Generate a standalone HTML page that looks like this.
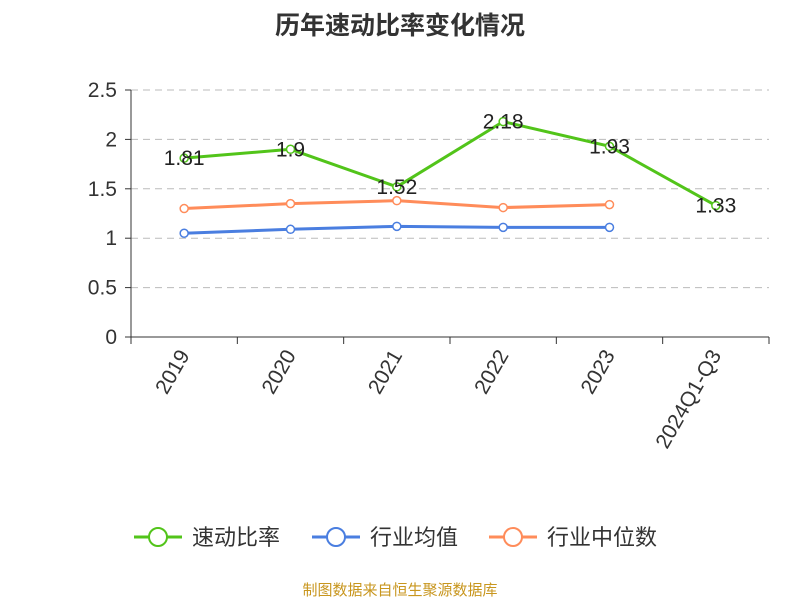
<!DOCTYPE html>
<html><head><meta charset="utf-8"><style>
body{margin:0;background:#fff;font-family:"Liberation Sans","Noto Sans CJK SC",sans-serif;}
</style></head><body>
<svg id="c" width="800" height="600" xmlns="http://www.w3.org/2000/svg"></svg>
<script>
const categories=["2019","2020","2021","2022","2023","2024Q1-Q3"];
const quickRatio=[1.81,1.9,1.52,2.18,1.93,1.33];
const industryMean=[1.05,1.09,1.12,1.11,1.11];
const industryMedian=[1.30,1.35,1.38,1.31,1.34];
const yTicks=[0,0.5,1,1.5,2,2.5];
const yTickLabels=["0","0.5","1","1.5","2","2.5"];
const seriesNames=["速动比率","行业均值","行业中位数"];
const colors=["#52c41a","#4a7ee0","#ff8c5a"];

const svg=document.getElementById('c');
const NS="http://www.w3.org/2000/svg";
const L=131,R=769,T=90,B=337;
const x=i=>L+(R-L)/categories.length*(i+0.5);
const y=v=>B-(B-T)*v/2.5;
function mk(tag,attrs,text){const e=document.createElementNS(NS,tag);for(const k in attrs)e.setAttribute(k,attrs[k]);if(text!==undefined)e.textContent=text;svg.appendChild(e);return e;}

let t=mk('text',{x:400,y:34,'text-anchor':'middle','font-size':25,'font-weight':'bold',fill:'#333'},'历年速动比率变化情况');



yTicks.forEach((v,i)=>{
  if(v>0){const g=mk('line',{x1:L,x2:R,y1:y(v),y2:y(v),stroke:'#bbb','stroke-dasharray':'7,5'});
  
  }
  const tk=mk('line',{x1:L-6,x2:L,y1:y(v),y2:y(v),stroke:'#333'});
  
  
  const lb=mk('text',{x:L-14,y:y(v)+7,'text-anchor':'end','font-size':21,fill:'#333'},yTickLabels[i]);
  
  
});
let ax=mk('line',{x1:L,x2:L,y1:T,y2:B,stroke:'#333'});


ax=mk('line',{x1:L,x2:R,y1:B,y2:B,stroke:'#333'});


for(let i=0;i<=categories.length;i++){
  const xx=L+(R-L)/categories.length*i;
  const tk=mk('line',{x1:xx,x2:xx,y1:B,y2:B+7,stroke:'#333'});
  
  
}
categories.forEach((c,i)=>{
  const ax0=x(i)+6, ay0=B+18;
  const lb=mk('text',{x:ax0,y:ay0,'text-anchor':'end','font-size':21,fill:'#333',transform:`rotate(-60 ${ax0} ${ay0})`},c);
  
  
});

function series(vals,color,name,labels){
  const pts=vals.map((v,i)=>x(i)+','+y(v)).join(' ');
  const pl=mk('polyline',{points:pts,fill:'none',stroke:color,'stroke-width':3});
  
  
  vals.forEach((v,i)=>{
    const c=mk('circle',{cx:x(i),cy:y(v),r:4,fill:'#fff',stroke:color,'stroke-width':1.5});
    
    
    if(labels){
      const lb=mk('text',{x:x(i),y:y(v)+7,'text-anchor':'middle','font-size':21,fill:'#222'},String(v));
      
      
    }
  });
}
series(industryMean,colors[1],'industry-mean',false);
series(industryMedian,colors[2],'industry-median',false);
series(quickRatio,colors[0],'quick-ratio',true);

const lx=[134,312,489];
const ln=['legend-quick-ratio','legend-industry-mean','legend-industry-median'];
seriesNames.forEach((n,i)=>{
  const l=mk('line',{x1:lx[i],x2:lx[i]+48,y1:537,y2:537,stroke:colors[i],'stroke-width':3});
  
  
  const c=mk('circle',{cx:lx[i]+24,cy:537,r:9,fill:'#fff',stroke:colors[i],'stroke-width':2});
  
  
  const tx=mk('text',{x:lx[i]+58,y:545,'font-size':22,fill:'#333'},n);
  
  
});
const s=mk('text',{x:400,y:595,'text-anchor':'middle','font-size':15,fill:'#c8961e'},'制图数据来自恒生聚源数据库');


</script>
</body></html>
